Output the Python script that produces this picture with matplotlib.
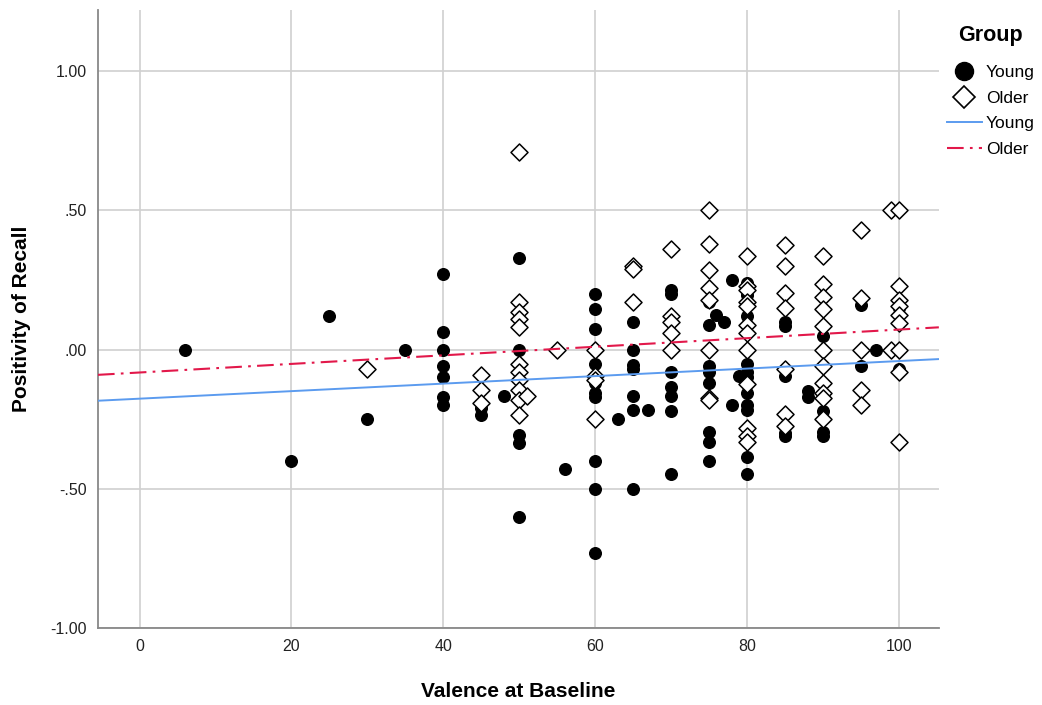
import numpy as np
import matplotlib
matplotlib.use('Agg')
import matplotlib.pyplot as plt
from matplotlib.lines import Line2D

plt.rcParams['font.family'] = ['Liberation Sans', 'DejaVu Sans']

# Young group (filled circles)
young_x = [6, 20, 25, 30, 35,
           40, 40, 40, 40, 40, 40, 40,
           45, 45, 48,
           50, 50, 50, 50, 50,
           56,
           60, 60, 60, 60, 60, 60, 60, 60, 60, 60, 60,
           63,
           65, 65, 65, 65, 65, 65, 65,
           67,
           70, 70, 70, 70, 70, 70, 70,
           75, 75, 75, 75, 75, 75, 75, 75,
           76, 77, 78, 78, 79,
           80, 80, 80, 80, 80, 80, 80, 80, 80, 80, 80,
           85, 85, 85, 85, 85,
           88, 88,
           90, 90, 90, 90,
           95, 95, 97,
           100, 100, 100]
young_y = [0, -0.40, 0.12, -0.25, 0,
           0.27, 0.065, 0, -0.06, -0.10, -0.17, -0.20,
           -0.21, -0.235, -0.165,
           0.33, 0, -0.305, -0.335, -0.60,
           -0.43,
           0.20, 0.145, 0.075, 0, -0.05, -0.12, -0.155, -0.17, -0.40, -0.50, -0.73,
           -0.25,
           0.10, 0, -0.055, -0.07, -0.165, -0.215, -0.50,
           -0.215,
           0.215, 0.20, -0.08, -0.135, -0.165, -0.22, -0.445,
           0.17, 0.09, -0.06, -0.08, -0.12, -0.295, -0.33, -0.40,
           0.125, 0.10, 0.25, -0.20, -0.095,
           0.24, 0.195, 0.12, -0.05, -0.08, -0.10, -0.155, -0.20, -0.215, -0.385, -0.445,
           0.10, 0.085, -0.095, -0.30, -0.31,
           -0.15, -0.17,
           0.05, -0.22, -0.295, -0.31,
           0.16, -0.06, 0,
           0.175, 0.15, -0.07]

# Older group (open diamonds)
older_x = [30,
           45, 45, 45,
           50, 50, 50, 50, 50, 50, 50, 50, 50, 50, 50,
           51, 55,
           60, 60, 60, 60,
           65, 65, 65,
           70, 70, 70, 70, 70,
           75, 75, 75, 75, 75, 75, 75, 75,
           80, 80, 80, 80, 80, 80, 80, 80, 80, 80, 80, 80,
           85, 85, 85, 85, 85, 85, 85,
           90, 90, 90, 90, 90, 90, 90, 90, 90, 90, 90,
           95, 95, 95, 95, 95,
           99, 99,
           100, 100, 100, 100, 100, 100, 100, 100, 100]
older_y = [-0.07,
           -0.09, -0.145, -0.19,
           0.71, 0.17, 0.135, 0.11, 0.08, -0.05, -0.08, -0.11, -0.145, -0.18, -0.235,
           -0.165, 0,
           0, -0.095, -0.11, -0.25,
           0.30, 0.29, 0.17,
           0.36, 0.12, 0.10, 0.06, 0,
           0.50, 0.38, 0.285, 0.22, 0.18, 0, -0.175, -0.18,
           0.335, 0.23, 0.215, 0.17, 0.155, 0.09, 0.06, 0, -0.125, -0.28, -0.31, -0.33,
           0.375, 0.30, 0.205, 0.15, -0.07, -0.23, -0.275,
           0.335, 0.235, 0.19, 0.145, 0.085, 0, -0.06, -0.12, -0.155, -0.175, -0.25,
           0.43, 0.185, 0, -0.145, -0.20,
           0.50, 0,
           0.50, 0.23, 0.18, 0.155, 0.125, 0.095, 0, -0.08, -0.33]

# fit lines (intercept, slope)
young_fit = (-0.176, 0.00135)
older_fit = (-0.082, 0.00154)

x_ticks = [0, 20, 40, 60, 80, 100]
y_ticks = [-1.0, -0.5, 0.0, 0.5, 1.0]
y_labels = ['-1.00', '-.50', '.00', '.50', '1.00']

fig = plt.figure(figsize=(10.42, 7.05), dpi=100)
ax = fig.add_axes([0.094, 0.109, 0.807, 0.877])

ax.set_xlim(-5.5, 105.3)
ax.set_ylim(-1.0, 1.22)

ax.scatter(young_x, young_y, s=70, marker='o', color='black', zorder=3)
ax.scatter(older_x, older_y, s=75, marker='D', facecolor='white',
           edgecolor='black', linewidths=1.1, zorder=4)

xs = np.array(ax.get_xlim())
ax.plot(xs, young_fit[0] + young_fit[1] * xs, color='#5B9BEF', lw=1.4, zorder=5)
ax.plot(xs, older_fit[0] + older_fit[1] * xs, color='#E2184A', lw=1.5,
        linestyle=(0, (8, 3, 1.3, 3)), zorder=5)
ax.set_xlim(xs)

ax.set_xticks(x_ticks)
ax.set_yticks(y_ticks)
ax.set_yticklabels(y_labels)
ax.grid(True, color='#d0d0d0', lw=1.2)
ax.set_axisbelow(True)
ax.tick_params(length=0, labelsize=11.5, colors='#222222', pad=8)

for s in ['top', 'right']:
    ax.spines[s].set_visible(False)
for s in ['left', 'bottom']:
    ax.spines[s].set_color('#888888')
    ax.spines[s].set_linewidth(1.3)

ax.set_xlabel('Valence at Baseline', fontsize=15, fontweight='bold', labelpad=20)
ax.set_ylabel('Positivity of Recall', fontsize=15, fontweight='bold', labelpad=14)

handles = [
    Line2D([], [], marker='o', color='black', linestyle='none', markersize=13),
    Line2D([], [], marker='D', markerfacecolor='white', markeredgecolor='black',
           markeredgewidth=1.2, linestyle='none', markersize=11),
    Line2D([], [], color='#5B9BEF', lw=1.4),
    Line2D([], [], color='#E2184A', lw=1.5, linestyle=(0, (8, 3, 1.3, 3))),
]
leg = fig.legend(handles, ['Young', 'Older', 'Young', 'Older'], title='Group',
                 loc='upper left', bbox_to_anchor=(0.902, 0.975), frameon=False,
                 fontsize=12.5, handlelength=2.0, handletextpad=0.25,
                 labelspacing=0.6, borderaxespad=0)
leg.get_title().set_fontweight('bold')
leg.get_title().set_fontsize(15.5)
leg._legend_box.sep = 14

fig.savefig('out.png', dpi=100)
